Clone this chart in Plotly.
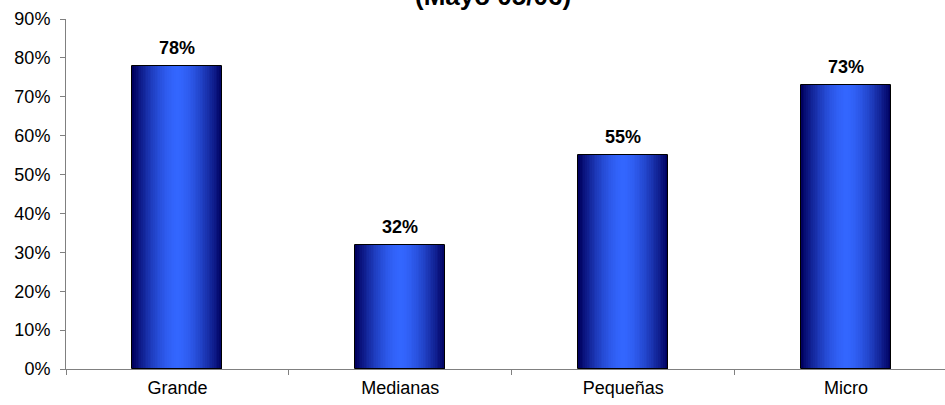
import plotly.graph_objects as go

categories = ["Grande", "Medianas", "Pequeñas", "Micro"]
values = [0.78, 0.32, 0.55, 0.73]
y_ticks = [0, 0.1, 0.2, 0.3, 0.4, 0.5, 0.6, 0.7, 0.8, 0.9]
y_tick_labels = ["0%", "10%", "20%", "30%", "40%", "50%", "60%", "70%", "80%", "90%"]
title_text = "(Mayo 05/06)"

BAR_W = 0.404
N = 26
center = (51, 102, 255)
edge = (0, 0, 95)

fig = go.Figure()
for k in range(N):
    d = 1 - k / N
    t = d ** 1.7
    c = tuple(round(center[i] + (edge[i] - center[i]) * t) for i in range(3))
    fig.add_trace(go.Bar(
        x=categories, y=values, width=BAR_W * d,
        marker=dict(color=f"rgb{c}", line=dict(width=0)),
        showlegend=False, hoverinfo="skip",
    ))
# outline on top
fig.add_trace(go.Bar(
    x=categories, y=values, width=BAR_W,
    marker=dict(color="rgba(0,0,0,0)", line=dict(color="black", width=1)),
    showlegend=False,
))

annotations = [
    dict(x=c, y=v, xref="x", yref="y", text=f"{round(v*100)}%", showarrow=False,
         yanchor="bottom", yshift=6,
         font=dict(family="Liberation Sans, Arial", size=18, color="black", weight="bold"))
    for c, v in zip(categories, values)
]
annotations.append(dict(
    x=(493 - 66) / (945 - 66), xref="paper", y=1.0171, yref="paper",
    text=f"<b>{title_text}</b>",
    showarrow=False, yanchor="bottom", xanchor="center",
    font=dict(family="Liberation Sans, Arial", size=26, color="black"),
))

fig.update_layout(
    width=945, height=405,
    margin=dict(l=66, r=0, t=19, b=36, pad=0, autoexpand=False),
    paper_bgcolor="white", plot_bgcolor="white",
    barmode="overlay", bargap=0,
    font=dict(family="Liberation Sans, Arial", size=18, color="black"),
    annotations=annotations,
    xaxis=dict(
        range=[-0.5, 3.444], showline=True, linecolor="#808080", linewidth=1,
        ticks="outside", tickson="boundaries", ticklen=5, tickcolor="#808080",
        showgrid=False, zeroline=False, fixedrange=True, automargin=False,
        ticklabelstandoff=2,
        tickfont=dict(size=18, color="black"),
    ),
    yaxis=dict(
        range=[0, 0.9], tickvals=y_ticks, ticktext=y_tick_labels,
        showline=True, linecolor="#808080", linewidth=1,
        ticks="outside", ticklen=5, tickcolor="#808080",
        showgrid=False, zeroline=False, automargin=False,
        ticklabelstandoff=6,
        tickfont=dict(size=18, color="black"),
    ),
)

fig.write_html(
    "out.html",
    config={"displayModeBar": False},
    post_script="document.body.style.margin='0';document.body.style.overflow='hidden';",
)
